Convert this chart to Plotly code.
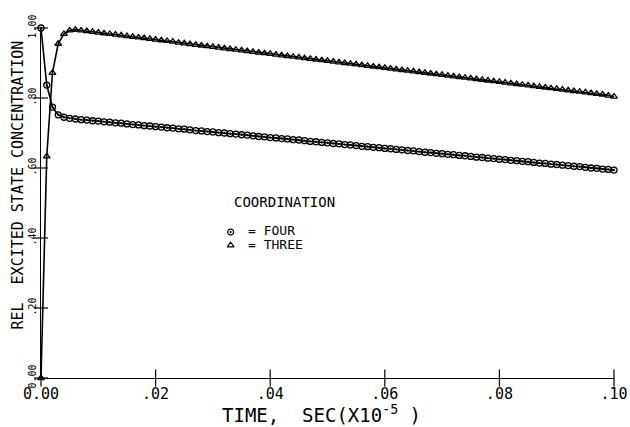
import plotly.graph_objects as go

time_x = [i * 0.001 for i in range(101)]

four = [1.000, 0.837, 0.774, 0.752, 0.745, 0.742, 0.740, 0.738, 0.737, 0.735,
        0.734, 0.732, 0.731, 0.729, 0.728, 0.726, 0.724, 0.723, 0.721, 0.720,
        0.718, 0.717, 0.715, 0.714, 0.712, 0.711, 0.709, 0.707, 0.706, 0.704,
        0.703, 0.701, 0.700, 0.698, 0.697, 0.695, 0.694, 0.692, 0.690, 0.689,
        0.687, 0.686, 0.684, 0.683, 0.681, 0.680, 0.678, 0.676, 0.675, 0.673,
        0.672, 0.670, 0.669, 0.667, 0.666, 0.664, 0.662, 0.661, 0.659, 0.658,
        0.656, 0.655, 0.653, 0.652, 0.650, 0.649, 0.647, 0.645, 0.644, 0.642,
        0.641, 0.639, 0.638, 0.636, 0.635, 0.633, 0.631, 0.630, 0.628, 0.627,
        0.625, 0.624, 0.622, 0.621, 0.619, 0.618, 0.616, 0.614, 0.613, 0.611,
        0.610, 0.608, 0.607, 0.605, 0.604, 0.602, 0.600, 0.599, 0.597, 0.596,
        0.594]

three = [0.000, 0.633, 0.872, 0.955, 0.983, 0.993, 0.995, 0.993, 0.991, 0.989,
         0.987, 0.985, 0.983, 0.981, 0.979, 0.977, 0.975, 0.973, 0.971, 0.969,
         0.967, 0.965, 0.963, 0.961, 0.958, 0.956, 0.954, 0.952, 0.950, 0.948,
         0.946, 0.944, 0.942, 0.940, 0.938, 0.936, 0.934, 0.932, 0.930, 0.928,
         0.926, 0.924, 0.922, 0.920, 0.918, 0.916, 0.914, 0.912, 0.910, 0.908,
         0.906, 0.904, 0.902, 0.900, 0.898, 0.896, 0.894, 0.892, 0.890, 0.888,
         0.886, 0.884, 0.882, 0.880, 0.878, 0.876, 0.874, 0.872, 0.870, 0.868,
         0.866, 0.864, 0.862, 0.860, 0.858, 0.856, 0.854, 0.852, 0.850, 0.848,
         0.846, 0.844, 0.842, 0.840, 0.838, 0.836, 0.834, 0.832, 0.830, 0.828,
         0.826, 0.824, 0.822, 0.820, 0.818, 0.816, 0.814, 0.812, 0.810, 0.807,
         0.804]

x_ticks = [0.0, 0.02, 0.04, 0.06, 0.08, 0.10]
x_tick_labels = ["0.00", ".02", ".04", ".06", ".08", ".10"]
y_ticks = [0.0, 0.2, 0.4, 0.6, 0.8, 1.0]
y_tick_labels = ["0.00", ".20", ".40", ".60", ".80", "1.00"]

FONT = "DejaVu Sans Mono, Liberation Mono, monospace"

fig = go.Figure()

# crossing tick marks
fig.add_trace(go.Scatter(x=x_ticks, y=[0] * len(x_ticks), mode="markers",
                         marker=dict(symbol="line-ns", size=12, line=dict(width=1.2, color="black")),
                         cliponaxis=False, showlegend=False, hoverinfo="skip"))
fig.add_trace(go.Scatter(x=[0] * len(y_ticks), y=y_ticks, mode="markers",
                         marker=dict(symbol="line-ew", size=10, line=dict(width=1.2, color="black")),
                         cliponaxis=False, showlegend=False, hoverinfo="skip"))

fig.add_trace(go.Scatter(x=time_x, y=four, mode="lines+markers", name="FOUR",
                         line=dict(color="black", width=1.6),
                         marker=dict(symbol="circle-open-dot", size=6, color="black",
                                     line=dict(width=1.3, color="black")),
                         cliponaxis=False, showlegend=False))
fig.add_trace(go.Scatter(x=time_x, y=three, mode="lines+markers", name="THREE",
                         line=dict(color="black", width=1.6),
                         marker=dict(symbol="triangle-up-open", size=6, color="black",
                                     line=dict(width=1.3, color="black")),
                         cliponaxis=False, showlegend=False))

# legend symbols
fig.add_trace(go.Scatter(x=[0.0331], y=[0.417], mode="markers",
                         marker=dict(symbol="circle-open-dot", size=6, color="black",
                                     line=dict(width=1.2, color="black")),
                         showlegend=False, hoverinfo="skip"))
fig.add_trace(go.Scatter(x=[0.0331], y=[0.379], mode="markers",
                         marker=dict(symbol="triangle-up-open", size=6, color="black",
                                     line=dict(width=1.2, color="black")),
                         showlegend=False, hoverinfo="skip"))

fig.add_annotation(x=0.0333, y=0.503, xref="x", yref="y", text="COORDINATION",
                   showarrow=False, xanchor="left", yanchor="middle",
                   font=dict(family=FONT, size=14, color="black"))
fig.add_annotation(x=0.0358, y=0.421, xref="x", yref="y", text="= FOUR",
                   showarrow=False, xanchor="left", yanchor="middle",
                   font=dict(family=FONT, size=13, color="black"))
fig.add_annotation(x=0.0358, y=0.381, xref="x", yref="y", text="= THREE",
                   showarrow=False, xanchor="left", yanchor="middle",
                   font=dict(family=FONT, size=13, color="black"))

# axis titles
fig.add_annotation(x=-0.040, y=0.55, xref="paper", yref="paper",
                   text="REL  EXCITED STATE CONCENTRATION", textangle=-90,
                   showarrow=False, xanchor="center", yanchor="middle",
                   font=dict(family=FONT, size=15, color="black"))
fig.add_annotation(x=0.49, y=-0.103, xref="paper", yref="paper",
                   text="TIME,  SEC(X10<sup>-5</sup> )",
                   showarrow=False, xanchor="center", yanchor="middle",
                   font=dict(family=FONT, size=19, color="black"))

fig.update_layout(
    width=630, height=427,
    margin=dict(l=41, r=16, t=28, b=49),
    paper_bgcolor="white", plot_bgcolor="white",
    showlegend=False,
    xaxis=dict(range=[0, 0.1], tickvals=x_ticks, ticktext=x_tick_labels,
               automargin=False, ticklabelstandoff=2,
               showgrid=False, zeroline=False, showline=True, linecolor="black",
               linewidth=1, ticks="", tickfont=dict(family=FONT, size=15, color="black")),
    yaxis=dict(range=[0, 1.0], tickvals=y_ticks, ticktext=y_tick_labels,
               automargin=False,
               showgrid=False, zeroline=False, showline=True, linecolor="black",
               linewidth=1, ticks="", tickangle=-90, ticklabelstandoff=0,
               tickfont=dict(family=FONT, size=10, color="black")),
)

fig.write_html("out.html", config={"displayModeBar": False},
               post_script="document.body.style.margin='0px';")
